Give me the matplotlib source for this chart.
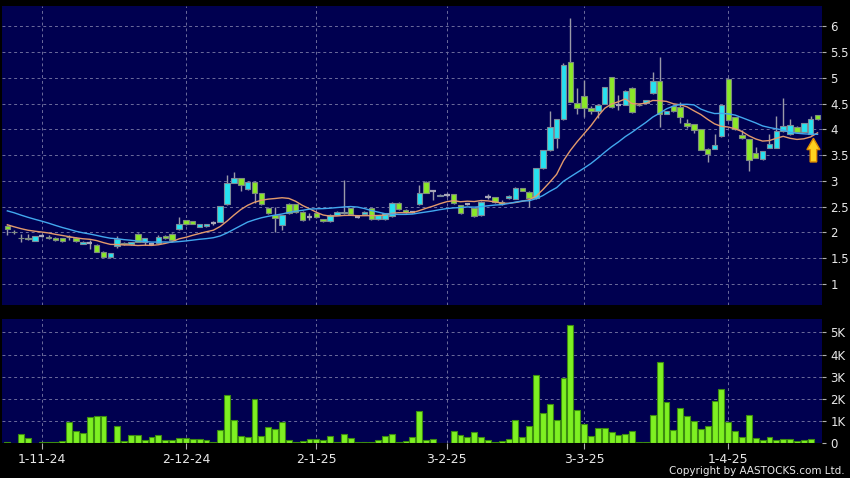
import numpy as np
import pandas as pd
import matplotlib
matplotlib.use("Agg")
from matplotlib import pyplot as plt
from matplotlib.patches import FancyArrow

# daily OHLC (HKD), one entry per trading day
open_ = [2.12, 2.01, 1.90, 1.89, 1.84, 1.94, 1.92, 1.90, 1.89, 1.92,
         1.90, 1.78, 1.79, 1.76, 1.63, 1.52, 1.73, 1.80, 1.77, 1.98,
         1.82, 1.78, 1.80, 1.94, 1.98, 2.06, 2.24, 2.22, 2.11, 2.12,
         2.18, 2.21, 2.55, 2.97, 3.05, 2.84, 2.99, 2.76, 2.48, 2.34,
         2.14, 2.55, 2.55, 2.40, 2.31, 2.37, 2.26, 2.22, 2.34, 2.38,
         2.47, 2.31, 2.35, 2.47, 2.26, 2.26, 2.32, 2.58, 2.44, 2.40,
         2.55, 2.99, 2.81, 2.71, 2.72, 2.74, 2.53, 2.56, 2.47, 2.33,
         2.68, 2.68, 2.60, 2.67, 2.66, 2.86, 2.79, 2.67, 3.25, 3.60,
         3.83, 4.20, 5.32, 4.52, 4.65, 4.41, 4.36, 4.50, 5.01, 4.48,
         4.48, 4.81, 4.48, 4.52, 4.70, 4.95, 4.31, 4.45, 4.44, 4.12,
         4.10, 4.00, 3.63, 3.63, 3.87, 4.99, 4.24, 3.89, 3.81, 3.55,
         3.42, 3.65, 3.65, 3.97, 3.91, 4.05, 3.96, 3.91, 4.28]
close = [2.06, 2.00, 1.89, 1.88, 1.93, 1.94, 1.90, 1.85, 1.83, 1.91,
         1.83, 1.82, 1.79, 1.63, 1.53, 1.60, 1.87, 1.77, 1.81, 1.82,
         1.89, 1.78, 1.92, 1.89, 1.86, 2.16, 2.16, 2.17, 2.16, 2.16,
         2.18, 2.51, 2.97, 3.05, 2.93, 2.99, 2.76, 2.55, 2.38, 2.28,
         2.33, 2.38, 2.40, 2.24, 2.31, 2.30, 2.22, 2.34, 2.40, 2.39,
         2.35, 2.31, 2.40, 2.26, 2.33, 2.37, 2.58, 2.45, 2.39, 2.40,
         2.76, 2.77, 2.81, 2.73, 2.72, 2.57, 2.37, 2.56, 2.32, 2.60,
         2.68, 2.59, 2.55, 2.71, 2.87, 2.81, 2.67, 3.25, 3.60, 4.04,
         4.20, 5.25, 4.54, 4.42, 4.41, 4.36, 4.48, 4.82, 4.43, 4.48,
         4.75, 4.33, 4.47, 4.57, 4.95, 4.31, 4.35, 4.35, 4.24, 4.07,
         3.99, 3.61, 3.52, 3.70, 4.47, 4.18, 4.00, 3.83, 3.41, 3.45,
         3.58, 3.71, 3.97, 4.07, 4.09, 3.96, 4.12, 4.20, 4.20]
high = [2.14, 2.05, 1.98, 1.97, 1.94, 1.97, 1.95, 1.92, 1.90, 1.95,
        1.91, 1.83, 1.85, 1.77, 1.64, 1.61, 1.93, 1.82, 1.82, 1.99,
        1.90, 1.80, 1.95, 1.95, 1.99, 2.31, 2.25, 2.23, 2.17, 2.17,
        2.22, 2.52, 3.12, 3.17, 3.06, 3.00, 3.00, 2.77, 2.50, 2.50,
        2.34, 2.57, 2.56, 2.42, 2.38, 2.38, 2.27, 2.35, 2.41, 3.02,
        2.48, 2.33, 2.41, 2.48, 2.34, 2.38, 2.60, 2.60, 2.45, 2.42,
        2.92, 3.00, 2.82, 2.74, 2.76, 2.75, 2.54, 2.58, 2.48, 2.61,
        2.74, 2.69, 2.63, 2.72, 2.88, 2.87, 2.80, 3.26, 3.61, 4.35,
        4.21, 5.30, 6.16, 4.80, 4.96, 4.45, 4.49, 4.83, 5.02, 4.67,
        4.76, 4.82, 4.50, 4.58, 5.12, 5.41, 4.36, 4.47, 4.54, 4.20,
        4.11, 4.01, 3.64, 3.92, 4.48, 5.00, 4.25, 3.99, 3.82, 3.66,
        3.59, 3.92, 4.26, 4.61, 4.21, 4.06, 4.13, 4.26, 4.29]
low = [1.95, 1.98, 1.82, 1.85, 1.83, 1.92, 1.88, 1.84, 1.82, 1.86,
       1.82, 1.77, 1.68, 1.62, 1.52, 1.51, 1.70, 1.76, 1.76, 1.81,
       1.76, 1.75, 1.79, 1.88, 1.85, 2.05, 2.15, 2.16, 2.10, 2.11,
       2.15, 2.20, 2.54, 2.96, 2.80, 2.83, 2.57, 2.54, 2.36, 2.00,
       2.05, 2.36, 2.38, 2.22, 2.25, 2.28, 2.20, 2.21, 2.33, 2.36,
       2.33, 2.29, 2.34, 2.25, 2.25, 2.25, 2.31, 2.44, 2.38, 2.38,
       2.54, 2.76, 2.64, 2.70, 2.69, 2.56, 2.36, 2.54, 2.31, 2.32,
       2.65, 2.58, 2.53, 2.66, 2.65, 2.80, 2.50, 2.66, 3.24, 3.59,
       3.64, 4.19, 4.53, 4.31, 4.25, 4.30, 4.22, 4.49, 4.42, 4.38,
       4.47, 4.32, 4.45, 4.51, 4.69, 4.05, 4.30, 4.33, 4.12, 4.02,
       3.93, 3.60, 3.36, 3.62, 3.86, 4.17, 3.99, 3.82, 3.19, 3.44,
       3.41, 3.64, 3.64, 3.96, 3.90, 3.95, 3.95, 3.90, 4.19]
# volume in thousands
volume = [0.06, 0.02, 0.41, 0.24, 0.01, 0.05, 0.05, 0.06, 0.10, 0.95,
          0.57, 0.47, 1.17, 1.22, 1.23, 0.06, 0.78, 0.09, 0.38, 0.36,
          0.14, 0.29, 0.36, 0.14, 0.14, 0.24, 0.24, 0.18, 0.20, 0.15,
          0.06, 0.59, 2.18, 1.04, 0.35, 0.29, 2.00, 0.35, 0.75, 0.66,
          0.96, 0.17, 0.06, 0.12, 0.20, 0.18, 0.15, 0.35, 0.06, 0.41,
          0.24, 0.05, 0.05, 0.05, 0.17, 0.33, 0.41, 0.08, 0.09, 0.29,
          1.46, 0.14, 0.18, 0.02, 0.03, 0.56, 0.36, 0.29, 0.53, 0.27,
          0.14, 0.05, 0.10, 0.18, 1.05, 0.29, 0.78, 3.08, 1.38, 1.79,
          1.04, 2.93, 5.33, 1.50, 0.86, 0.33, 0.71, 0.68, 0.50, 0.38,
          0.44, 0.54, 0.08, 0.08, 1.28, 3.65, 1.85, 0.60, 1.61, 1.23,
          1.01, 0.65, 0.78, 1.89, 2.45, 0.96, 0.54, 0.27, 1.29, 0.23,
          0.14, 0.29, 0.15, 0.20, 0.21, 0.11, 0.14, 0.21, 0.02]
# closes before the window, only used to seed the moving averages
prior_close = [2.75, 2.80, 2.72, 2.70, 2.66, 2.68, 2.72, 2.65, 2.62, 2.60,
               2.40, 2.25, 2.18, 2.12, 2.10, 2.08, 2.12, 2.05, 2.14]

date_pos = [5, 26, 45, 64, 84, 105]
date_labels = ['1-11-24', '2-12-24', '2-1-25', '3-2-25', '3-3-25', '1-4-25']
price_ticks = [1, 1.5, 2, 2.5, 3, 3.5, 4, 4.5, 5, 5.5, 6]
vol_ticks = [0, 1, 2, 3, 4, 5]
vol_labels = ['0', '1K', '2K', '3K', '4K', '5K']

NAVY = '#000050'
CYAN = '#26e2f0'
LIME = '#8ae828'
GRID = '#6c6c9c'
TXT = '#e8e8e8'

o = np.array(open_)
c = np.array(close)
h = np.array(high)
l = np.array(low)
x = np.arange(len(c))

allc = pd.Series(prior_close + close)
ma10 = allc.rolling(10).mean().values[len(prior_close):]
ma20 = allc.rolling(20).mean().values[len(prior_close):]

fig = plt.figure(figsize=(8.5, 4.78), dpi=100, facecolor='black')
ax1 = fig.add_axes([2 / 850, 1 - 305 / 478, 820 / 850, 299 / 478])
ax2 = fig.add_axes([2 / 850, 1 - 443.3 / 478, 820 / 850, 124.3 / 478])

for ax in (ax1, ax2):
    ax.set_facecolor(NAVY)
    for s in ax.spines.values():
        s.set_visible(False)
    ax.set_xlim(-0.78, 118.65)
    ax.yaxis.tick_right()
    ax.tick_params(axis='y', colors='#b0b0b0', labelcolor=TXT, labelsize=8.5,
                   length=3, width=0.8, pad=3)
    for p in date_pos:
        ax.axvline(p, color=GRID, lw=0.7, ls=(0, (3, 3)), zorder=0)

# price panel
ax1.set_ylim(0.592, 6.398)
ax1.set_yticks(price_ticks)
ax1.set_yticklabels([f'{v:g}' for v in price_ticks])
ax1.set_xticks([])
for v in price_ticks:
    ax1.axhline(v, color=GRID, lw=0.7, ls=(0, (3, 3)), zorder=0)

ax1.vlines(x, l, h, color='#9a9aa8', lw=1, zorder=2)
doji = np.abs(c - o) < 0.006
up = (c > o) & ~doji
dn = (c < o) & ~doji
ax1.bar(x[up], (c - o)[up], bottom=o[up], width=0.8, color=CYAN,
        edgecolor='#7d8c99', linewidth=0.8, zorder=3)
ax1.bar(x[dn], (o - c)[dn], bottom=c[dn], width=0.8, color=LIME,
        edgecolor='#7d8c80', linewidth=0.8, zorder=3)
ax1.hlines(c[doji], x[doji] - 0.4, x[doji] + 0.4, color='#a8a8b8', lw=1.6, zorder=3)

ax1.plot(x, ma10, color='#e39a6c', lw=1, zorder=4)
ax1.plot(x, ma20, color='#42a8ee', lw=1, zorder=4)

ax1.add_patch(FancyArrow(117.4, 3.37, 0, 0.46, width=0.95, head_width=1.9,
                         head_length=0.22, length_includes_head=True,
                         facecolor='#ffd21f', edgecolor='#e08c00', lw=1, zorder=6))

# volume panel
ax2.set_ylim(0, 5.6)
ax2.set_yticks(vol_ticks)
ax2.set_yticklabels(vol_labels)
for v in vol_ticks[1:]:
    ax2.axhline(v, color=GRID, lw=0.7, ls=(0, (3, 3)), zorder=0)
ax2.bar(x, volume, width=0.86, color='#7ef022', edgecolor='#3c8c10',
        linewidth=0.8, zorder=3)
ax2.set_xticks(date_pos)
ax2.set_xticklabels(date_labels)
ax2.tick_params(axis='x', colors='#b0b0b0', labelcolor=TXT, labelsize=9,
                length=4, width=0.8, pad=3)

fig.text(845 / 850, 1 - 471 / 478, 'Copyright by AASTOCKS.com Ltd.', color=TXT,
         fontsize=7.5, ha='right', va='center')

fig.savefig('out.png', dpi=100, facecolor='black')
